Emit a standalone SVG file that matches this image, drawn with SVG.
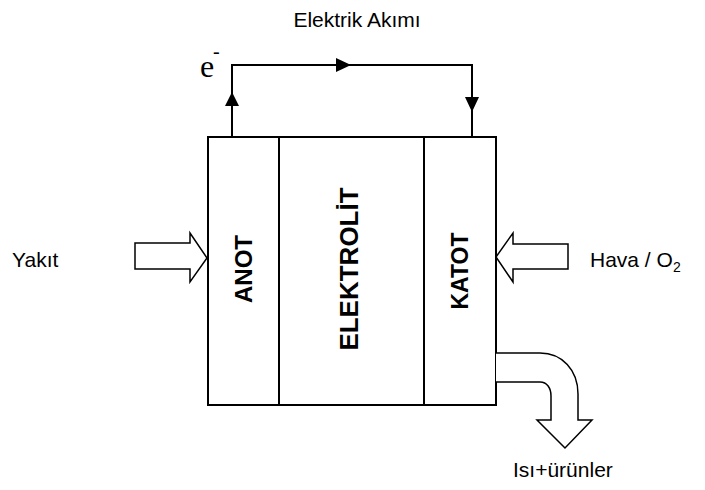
<svg xmlns="http://www.w3.org/2000/svg" width="705" height="490" viewBox="0 0 705 490">
<style>
.ln{fill:none;stroke:#000;stroke-width:2}
.ar{fill:#fff;stroke:#000;stroke-width:1.5;stroke-linejoin:miter}
.hd{fill:#000;stroke:none}
.lb{font-family:"Liberation Sans",Arial,sans-serif;font-size:21px;fill:#000}
.bl{font-family:"Liberation Sans",Arial,sans-serif;font-weight:bold;fill:#000}
</style>
<rect width="705" height="490" fill="#fff"/>
<g id="connectors">
<path class="ln" d="M232,137 V65 H472 V137"/>
<polygon class="hd" points="232,92 225,106 239,106"/>
<polygon class="hd" points="351,65 336,58 336,72"/>
<polygon class="hd" points="472,112 465,97 479,97"/>
</g>
<g id="cell">
<rect class="ln" x="208" y="137" width="288" height="268"/>
<line class="ln" x1="279" y1="137" x2="279" y2="405"/>
<line class="ln" x1="424" y1="137" x2="424" y2="405"/>
</g>
<g id="anot"><text class="bl" font-size="24" transform="translate(252,269) rotate(-90)" text-anchor="middle">ANOT</text></g>
<g id="elektrolit"><text class="bl" font-size="26" transform="translate(358,269) rotate(-90)" text-anchor="middle">ELEKTROLİT</text></g>
<g id="katot"><text class="bl" font-size="23" transform="translate(468,271) rotate(-90)" text-anchor="middle">KATOT</text></g>
<g id="electron">
<text font-family="'Liberation Serif','Times New Roman',serif" font-size="32" x="200" y="77">e</text>
<text font-family="'Liberation Serif','Times New Roman',serif" font-size="20" x="213" y="58">-</text>
</g>
<g id="current"><text class="lb" font-size="22" x="357" y="27" text-anchor="middle">Elektrik Akımı</text></g>
<g id="yakit">
<polygon class="ar" points="135,243 190,243 190,233 207,258 190,282 190,269 135,269"/>
<text class="lb" x="12" y="267">Yakıt</text>
</g>
<g id="hava">
<polygon class="ar" points="568,244 513,244 513,233 496,257 513,282 513,269 568,269"/>
<text class="lb" x="590" y="267">Hava / O<tspan font-size="14" dy="5">2</tspan></text>
</g>
<g id="urunler">
<path class="ar" d="M496,353 L540,353 C562,353 578,370 578,394 L578,420 L592,420 L565,448 L537,420 L551,420 L551,396 C551,388 547,382 540,382 L496,382"/>
<text class="lb" x="513" y="477">Isı+ürünler</text>
</g>
</svg>
